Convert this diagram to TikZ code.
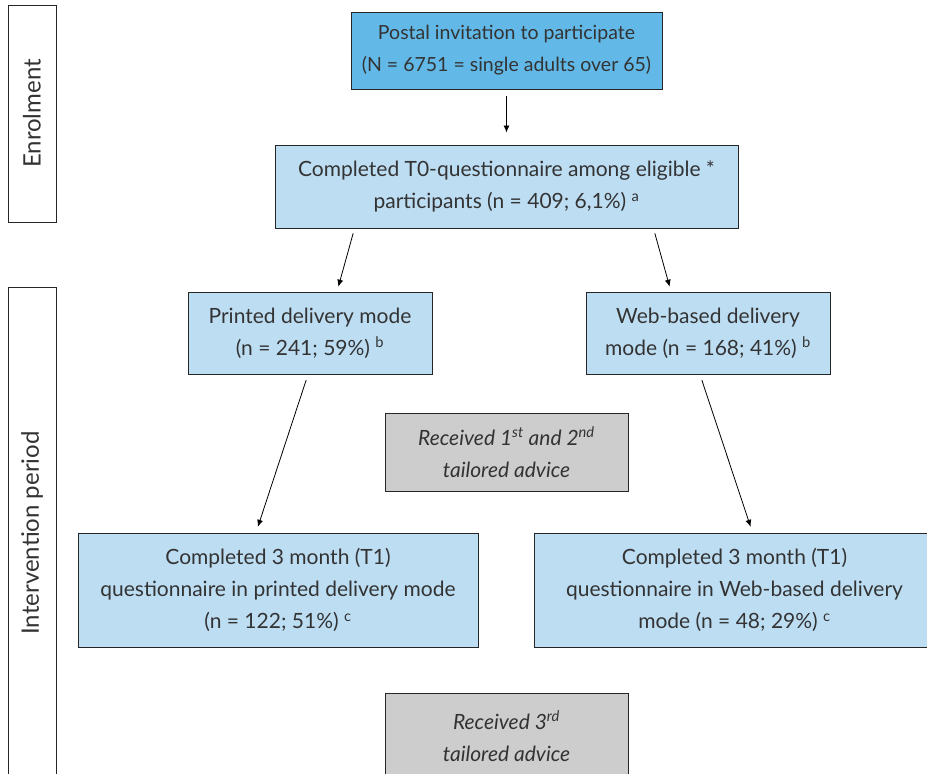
\documentclass[tikz,border=0pt]{standalone}
\usepackage{fontspec}
\setmainfont{Lato}
\usetikzlibrary{arrows.meta, positioning}

\definecolor{darkblue}{HTML}{62B9E8}
\definecolor{lightblue}{HTML}{BDDDF3}
\definecolor{greybox}{HTML}{CDCDCD}
\definecolor{textgrey}{HTML}{333333}

\begin{document}
\begin{tikzpicture}[
  x=1pt, y=-1pt,
  every node/.style={rectangle, draw=black!85, line width=1pt, align=center, text=textgrey, inner sep=0pt, font=\fontsize{21}{32}\selectfont},
  invite/.style={fill=darkblue, font=\fontsize{19.5}{32}\selectfont},
  stage/.style={fill=lightblue},
  advice/.style={fill=greybox, font=\fontsize{21}{32}\selectfont\itshape},
  phase/.style={rotate=90, minimum height=48pt, font=\fontsize{24}{28}\selectfont},
  arrow/.style={-{Latex[length=7pt,width=6pt]}, line width=0.8pt, black}
]
\clip (0,0) rectangle (927,774);

% Phases
\node[phase, minimum width=217pt] (enrol) at (32,113.5) {Enrolment};
\node[phase, minimum width=492pt] (intervention) at (32,533) {Intervention period};

% Nodes
\node[invite, minimum width=311pt, minimum height=77pt] (invite) at (506.5,50.5) {Postal invitation to participate\\(N = 6751 = single adults over 65)};
\node[stage, minimum width=463pt, minimum height=83pt] (t0) at (506.5,186.5) {Completed T0-questionnaire among eligible *\\participants (n = 409; 6,1\%) \textsuperscript{a}};
\node[stage, minimum width=244pt, minimum height=82pt] (printed) at (310,333) {Printed delivery mode\\(n = 241; 59\%) \textsuperscript{b}};
\node[stage, minimum width=244pt, minimum height=82pt] (web) at (708,333) {Web-based delivery\\mode (n = 168; 41\%) \textsuperscript{b}};
\node[advice, minimum width=243pt, minimum height=78pt] (advice1) at (506.5,452) {Received 1\textsuperscript{st} and 2\textsuperscript{nd}\\tailored advice};
\node[stage, minimum width=400pt, minimum height=114pt] (t1printed) at (278,590) {Completed 3 month (T1)\\questionnaire in printed delivery mode\\(n = 122; 51\%) \textsuperscript{c}};
\node[stage, minimum width=401pt, minimum height=114pt] (t1web) at (734.5,590) {Completed 3 month (T1)\\questionnaire in Web-based delivery\\mode (n = 48; 29\%) \textsuperscript{c}};
\node[advice, minimum width=243pt, minimum height=86pt] (advice2) at (506.5,736) {Received 3\textsuperscript{rd}\\tailored advice};

% Arrows
\draw[arrow, shorten <=6pt, shorten >=12pt] (invite) -- (t0);
\draw[arrow, shorten <=5pt, shorten >=5pt] ([xshift=80pt]t0.south west) -- ([xshift=27pt]printed.north);
\draw[arrow, shorten <=5pt, shorten >=5pt] ([xshift=-85pt]t0.south east) -- ([xshift=-37pt]web.north);
\draw[arrow, shorten <=6pt, shorten >=6pt] ([xshift=-2pt]printed.south) -- ([xshift=-22pt]t1printed.north);
\draw[arrow, shorten <=6pt, shorten >=6pt] ([xshift=-8pt]web.south) -- ([xshift=18pt]t1web.north);

\end{tikzpicture}
\end{document}
